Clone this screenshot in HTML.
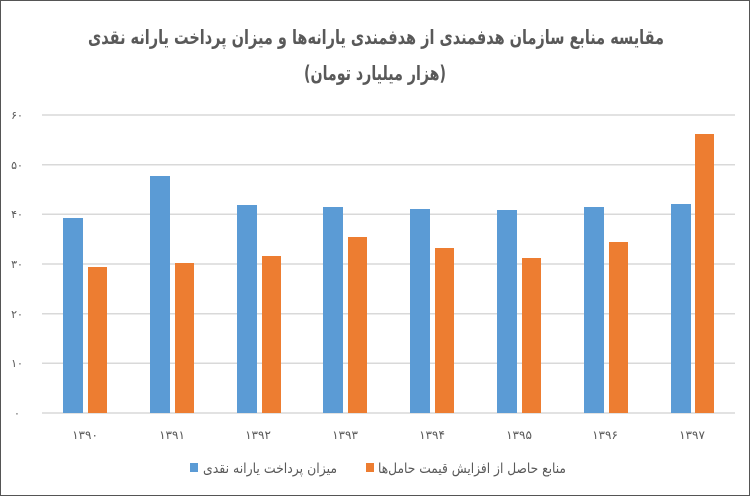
<!DOCTYPE html>
<html><head><meta charset="utf-8"><style>
body{margin:0;background:#fff}
svg{display:block}
text{font-family:"DejaVu Sans",sans-serif}
</style></head><body>
<svg width="750" height="496" xmlns="http://www.w3.org/2000/svg">
<rect x="0.5" y="0.5" width="749" height="495" fill="#fff" stroke="#555"/>
<text x="376" y="44" text-anchor="middle" font-size="20" font-weight="bold" fill="#595959" textLength="576" lengthAdjust="spacingAndGlyphs">مقایسه منابع سازمان هدفمندی از هدفمندی یارانه‌ها و میزان پرداخت یارانه نقدی</text>
<text x="375" y="80" text-anchor="middle" font-size="20" font-weight="bold" fill="#595959" textLength="142" lengthAdjust="spacingAndGlyphs">(هزار میلیارد تومان)</text>
<g stroke="#d9d9d9" stroke-width="1.5">
<line x1="42" x2="735" y1="115" y2="115"/><line x1="42" x2="735" y1="164.7" y2="164.7"/>
<line x1="42" x2="735" y1="214.3" y2="214.3"/><line x1="42" x2="735" y1="264" y2="264"/>
<line x1="42" x2="735" y1="313.7" y2="313.7"/><line x1="42" x2="735" y1="363.3" y2="363.3"/>
<line x1="42" x2="735" y1="413" y2="413"/>
</g>
<g font-size="11" fill="#595959" text-anchor="middle">
<text x="17" y="119">۶۰</text><text x="17" y="169">۵۰</text><text x="17" y="218">۴۰</text>
<text x="17" y="268">۳۰</text><text x="17" y="318">۲۰</text><text x="17" y="367">۱۰</text><text x="17" y="417">۰</text>
</g>
<g font-size="12" fill="#595959" text-anchor="middle">
<text x="85" y="439">۱۳۹۰</text><text x="172" y="439">۱۳۹۱</text><text x="258" y="439">۱۳۹۲</text>
<text x="345" y="439">۱۳۹۳</text><text x="432" y="439">۱۳۹۴</text><text x="519" y="439">۱۳۹۵</text>
<text x="605" y="439">۱۳۹۶</text><text x="692" y="439">۱۳۹۷</text>
</g>
<rect x="190" y="463" width="8" height="9" fill="#5b9bd5"/>
<text x="270" y="473" text-anchor="middle" font-size="14" fill="#595959" textLength="134" lengthAdjust="spacingAndGlyphs">میزان پرداخت یارانه نقدی</text>
<rect x="366" y="463" width="8" height="9" fill="#ed7d31"/>
<text x="472" y="473" text-anchor="middle" font-size="14" fill="#595959" textLength="188" lengthAdjust="spacingAndGlyphs">منابع حاصل از افزایش قیمت حامل‌ها</text>
<g fill="#5b9bd5">
<rect x="63" y="218" width="20" height="195"/>
<rect x="150" y="176" width="20" height="237"/>
<rect x="237" y="205" width="20" height="208"/>
<rect x="323" y="207" width="20" height="206"/>
<rect x="410" y="209" width="20" height="204"/>
<rect x="497" y="210" width="20" height="203"/>
<rect x="584" y="207" width="20" height="206"/>
<rect x="671" y="204" width="20" height="209"/>
</g>
<g fill="#ed7d31">
<rect x="88" y="267" width="19" height="146"/>
<rect x="175" y="263" width="19" height="150"/>
<rect x="262" y="256" width="19" height="157"/>
<rect x="348" y="237" width="19" height="176"/>
<rect x="435" y="248" width="19" height="165"/>
<rect x="522" y="258" width="19" height="155"/>
<rect x="609" y="242" width="19" height="171"/>
<rect x="695" y="134" width="19" height="279"/>
</g>
</svg>
</body></html>
